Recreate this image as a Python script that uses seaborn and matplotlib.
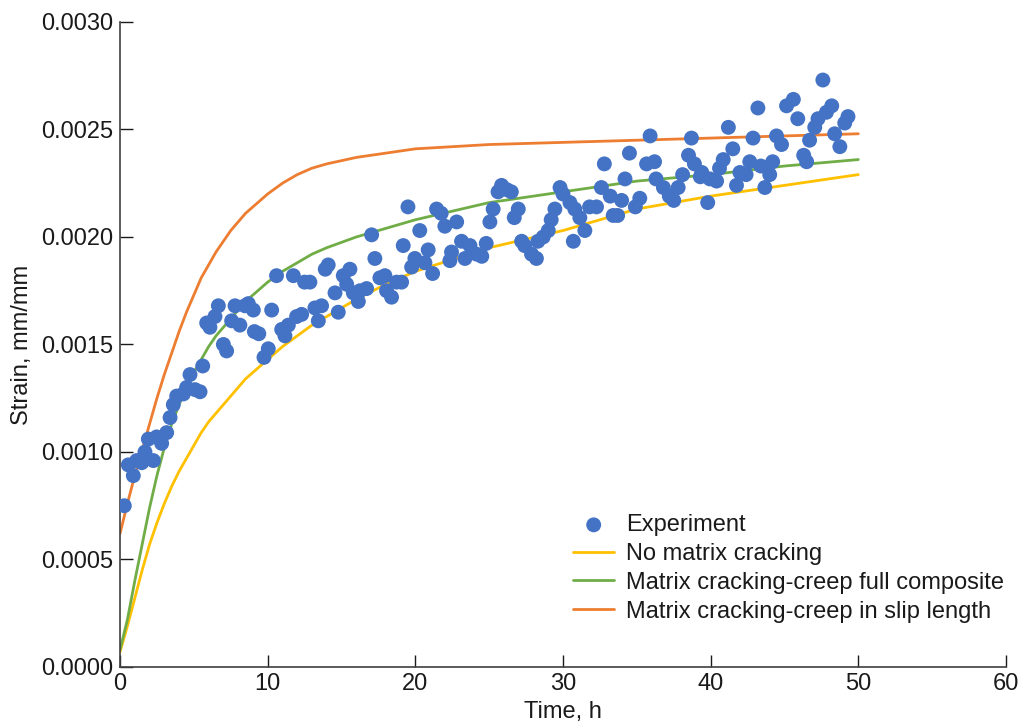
import numpy as np
import pandas as pd
import matplotlib
matplotlib.use("Agg")
import matplotlib.pyplot as plt
from matplotlib.ticker import FormatStrFormatter
import seaborn as sns

# ---------------- data ----------------
exp_time = [0.29, 0.56, 0.90, 1.13, 1.47, 1.69, 1.92, 2.26, 2.48, 2.82,
            3.16, 3.39, 3.61, 3.84, 4.29, 4.51, 4.74, 5.08, 5.42, 5.60,
            5.87, 6.09, 6.43, 6.66, 7.00, 7.22, 7.56, 7.79, 8.12, 8.46,
            8.69, 9.03, 9.10, 9.40, 9.75, 10.04, 10.27, 10.60, 10.95, 11.17,
            11.40, 11.74, 11.96, 12.30, 12.50, 12.86, 13.20, 13.43, 13.65, 13.90,
            14.10, 14.56, 14.78, 15.12, 15.35, 15.57, 15.80, 16.14, 16.25, 16.70,
            17.04, 17.26, 17.60, 17.94, 18.05, 18.39, 18.73, 19.07, 19.18, 19.50,
            19.75, 19.97, 20.30, 20.65, 20.87, 21.17, 21.44, 21.75, 22.00, 22.34,
            22.45, 22.80, 23.13, 23.36, 23.70, 24.15, 24.50, 24.80, 25.05, 25.27,
            25.60, 25.84, 26.20, 26.50, 26.70, 26.97, 27.20, 27.40, 27.87, 28.20,
            28.30, 28.66, 29.00, 29.20, 29.45, 29.80, 30.00, 30.47, 30.70, 30.80,
            31.14, 31.48, 31.80, 32.27, 32.60, 32.80, 33.20, 33.40, 33.70, 33.97,
            34.20, 34.50, 34.90, 35.20, 35.66, 35.90, 36.20, 36.30, 36.80, 37.20,
            37.50, 37.80, 38.10, 38.50, 38.70, 38.90, 39.30, 39.40, 39.80, 39.95,
            40.40, 40.60, 40.85, 41.20, 41.50, 41.75, 41.98, 42.40, 42.65, 42.87,
            43.20, 43.40, 43.67, 44.00, 44.20, 44.46, 44.80, 45.14, 45.60, 45.90,
            46.30, 46.50, 46.70, 47.05, 47.27, 47.60, 47.84, 48.20, 48.40, 48.75,
            49.08, 49.30]
exp_strain = [0.00075, 0.00094, 0.00089, 0.00096, 0.00095, 0.00100, 0.00106, 0.00096, 0.00107, 0.00104,
              0.00109, 0.00116, 0.00122, 0.00126, 0.00127, 0.00130, 0.00136, 0.00129, 0.00128, 0.00140,
              0.00160, 0.00158, 0.00163, 0.00168, 0.00150, 0.00147, 0.00161, 0.00168, 0.00159, 0.00168,
              0.00169, 0.00166, 0.00156, 0.00155, 0.00144, 0.00148, 0.00166, 0.00182, 0.00157, 0.00154,
              0.00159, 0.00182, 0.00163, 0.00164, 0.00179, 0.00179, 0.00167, 0.00161, 0.00168, 0.00185,
              0.00187, 0.00174, 0.00165, 0.00182, 0.00178, 0.00185, 0.00174, 0.00170, 0.00175, 0.00176,
              0.00201, 0.00190, 0.00181, 0.00182, 0.00175, 0.00172, 0.00179, 0.00179, 0.00196, 0.00214,
              0.00186, 0.00190, 0.00203, 0.00188, 0.00194, 0.00183, 0.00213, 0.00211, 0.00205, 0.00189,
              0.00193, 0.00207, 0.00198, 0.00190, 0.00196, 0.00192, 0.00191, 0.00197, 0.00207, 0.00213,
              0.00221, 0.00224, 0.00222, 0.00221, 0.00209, 0.00213, 0.00198, 0.00196, 0.00192, 0.00190,
              0.00198, 0.00200, 0.00203, 0.00208, 0.00213, 0.00223, 0.00220, 0.00216, 0.00198, 0.00213,
              0.00209, 0.00203, 0.00214, 0.00214, 0.00223, 0.00234, 0.00219, 0.00210, 0.00210, 0.00217,
              0.00227, 0.00239, 0.00214, 0.00218, 0.00234, 0.00247, 0.00235, 0.00227, 0.00223, 0.00219,
              0.00217, 0.00223, 0.00229, 0.00238, 0.00246, 0.00234, 0.00228, 0.00230, 0.00216, 0.00227,
              0.00226, 0.00232, 0.00236, 0.00251, 0.00241, 0.00224, 0.00230, 0.00229, 0.00235, 0.00246,
              0.00260, 0.00233, 0.00223, 0.00229, 0.00235, 0.00247, 0.00243, 0.00261, 0.00264, 0.00255,
              0.00238, 0.00235, 0.00245, 0.00251, 0.00255, 0.00273, 0.00258, 0.00261, 0.00248, 0.00242,
              0.00253, 0.00256]

curve_time = [0, 0.5, 1, 1.5, 2, 2.5, 3, 3.5, 4, 4.5, 5, 5.5, 6, 6.5, 7, 7.5,
              8, 8.5, 9, 9.5, 10, 11, 12, 13, 14, 16, 18, 20, 25, 30, 35, 40, 45, 50]
no_cracking = [0.00007, 0.00019, 0.00032, 0.00045, 0.00057, 0.00067, 0.00076, 0.00084,
               0.00091, 0.00097, 0.00103, 0.00109, 0.00114, 0.00118, 0.00122, 0.00126,
               0.00130, 0.00134, 0.00137, 0.00140, 0.00143, 0.00149, 0.00154, 0.00159,
               0.00163, 0.00171, 0.00178, 0.00184, 0.00195, 0.00203, 0.00213, 0.00219,
               0.00224, 0.00229]
full_composite = [0.00008, 0.00022, 0.00040, 0.00057, 0.00074, 0.00089, 0.00102, 0.00113,
                  0.00122, 0.00130, 0.00137, 0.00143, 0.00149, 0.00154, 0.00158, 0.00162,
                  0.00166, 0.00170, 0.00173, 0.00176, 0.00179, 0.00184, 0.00188, 0.00192,
                  0.00195, 0.00200, 0.00204, 0.00208, 0.00216, 0.00221, 0.00226, 0.00229,
                  0.00233, 0.00236]
slip_length = [0.00062, 0.00076, 0.00089, 0.00101, 0.00113, 0.00125, 0.00136, 0.00146,
               0.00156, 0.00165, 0.00173, 0.00181, 0.00187, 0.00193, 0.00198, 0.00203,
               0.00207, 0.00211, 0.00214, 0.00217, 0.00220, 0.00225, 0.00229, 0.00232,
               0.00234, 0.00237, 0.00239, 0.00241, 0.00243, 0.00244, 0.00245, 0.00246,
               0.00247, 0.00248]

labels = ["Experiment", "No matrix cracking",
          "Matrix cracking-creep full composite",
          "Matrix cracking-creep in slip length"]
x_ticks = [0, 10, 20, 30, 40, 50, 60]
y_ticks = [0.0, 0.0005, 0.0010, 0.0015, 0.0020, 0.0025, 0.0030]

# ---------------- plot ----------------
sns.set_theme(style="ticks")
plt.rcParams["font.family"] = ["Liberation Sans", "DejaVu Sans"]
ink = "#1a1a1a"
plt.rcParams.update({"text.color": ink, "axes.labelcolor": ink,
                     "xtick.color": ink, "ytick.color": ink,
                     "axes.edgecolor": "#404040"})

fig = plt.figure(figsize=(10.24, 7.23), dpi=100)
ax = fig.add_axes([0.1172, 0.0775, 0.8652, 0.8921])

c_blue = "#4472C4"
c_yellow = "#FFC000"
c_green = "#70AD47"
c_orange = "#ED7D31"

sns.lineplot(x=curve_time, y=no_cracking, ax=ax, color=c_yellow, linewidth=2,
             label=labels[1], zorder=2)
sns.lineplot(x=curve_time, y=full_composite, ax=ax, color=c_green, linewidth=2,
             label=labels[2], zorder=2)
sns.lineplot(x=curve_time, y=slip_length, ax=ax, color=c_orange, linewidth=2,
             label=labels[3], zorder=2)
sns.scatterplot(x=exp_time, y=exp_strain, ax=ax, color=c_blue, s=115,
                edgecolor="none", linewidth=0, label=labels[0], zorder=3)

ax.set_xlim(0, 60)
ax.set_ylim(0, 0.003)
ax.set_xticks(x_ticks)
ax.set_yticks(y_ticks)
ax.yaxis.set_major_formatter(FormatStrFormatter("%.4f"))
ax.tick_params(axis="x", direction="in", length=9, width=1, labelsize=17, pad=4)
ax.tick_params(axis="y", direction="in", length=9, width=1, labelsize=17, pad=5)
sns.despine(ax=ax)
for sp in ["left", "bottom"]:
    ax.spines[sp].set_linewidth(1.2)

ax.set_xlabel("Time, h", fontsize=17, labelpad=5)
ax.set_ylabel("Strain, mm/mm", fontsize=17, labelpad=6)

handles, labs = ax.get_legend_handles_labels()
order = [labs.index(l) for l in labels]
leg = ax.legend([handles[i] for i in order], [labs[i] for i in order],
                loc="upper left", bbox_to_anchor=(0.5596, 0.289),
                bbox_transform=fig.transFigure, frameon=False, fontsize=17,
                borderpad=0, borderaxespad=0, handlelength=1.75,
                handletextpad=0.5, labelspacing=0.29)

fig.savefig("out.png", dpi=100)
